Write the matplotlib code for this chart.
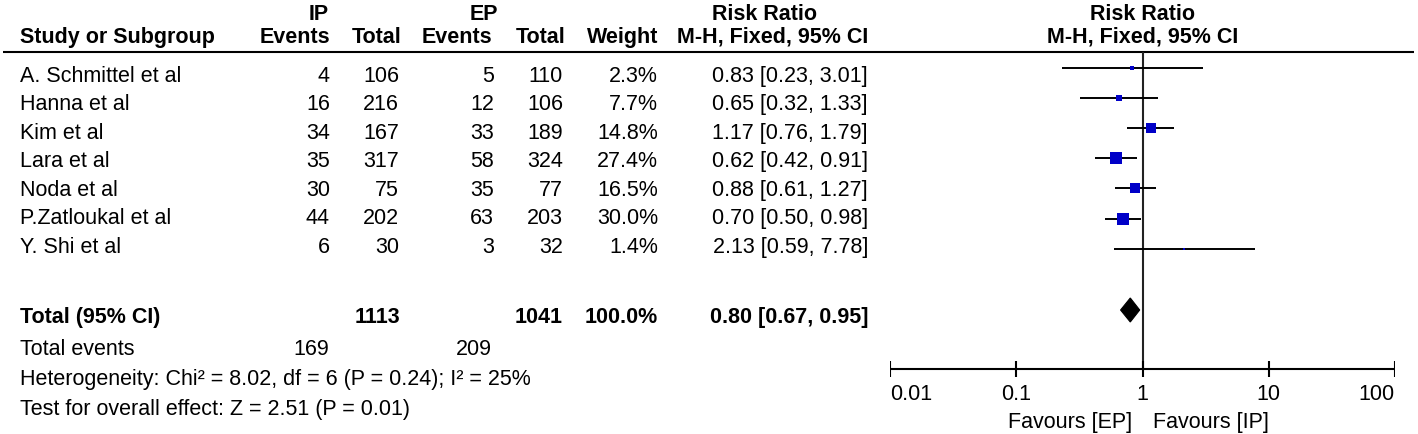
import matplotlib
matplotlib.use("Agg")
import matplotlib.pyplot as plt
from matplotlib.patches import Polygon

# ---------------- data ----------------
studies = ["A. Schmittel et al", "Hanna et al", "Kim et al", "Lara et al",
           "Noda et al", "P.Zatloukal et al", "Y. Shi et al"]
ip_events = [4, 16, 34, 35, 30, 44, 6]
ip_total = [106, 216, 167, 317, 75, 202, 30]
ep_events = [5, 12, 33, 58, 35, 63, 3]
ep_total = [110, 106, 189, 324, 77, 203, 32]
weights = [2.3, 7.7, 14.8, 27.4, 16.5, 30.0, 1.4]
rr = [0.83, 0.65, 1.17, 0.62, 0.88, 0.70, 2.13]
ci_lo = [0.23, 0.32, 0.76, 0.42, 0.61, 0.50, 0.59]
ci_hi = [3.01, 1.33, 1.79, 0.91, 1.27, 0.98, 7.78]

total_ip_n = 1113
total_ep_n = 1041
total_weight = 100.0
total_rr = 0.80
total_lo = 0.67
total_hi = 0.95
total_ip_events = 169
total_ep_events = 209
heterogeneity = "Heterogeneity: Chi\u00b2 = 8.02, df = 6 (P = 0.24); I\u00b2 = 25%"
overall = "Test for overall effect: Z = 2.51 (P = 0.01)"

tick_values = [0.01, 0.1, 1, 10, 100]
tick_labels = ["0.01", "0.1", "1", "10", "100"]
favours_left = "Favours [EP]"
favours_right = "Favours [IP]"

# ---------------- layout ----------------
W, H = 1418, 435
FS = 15.5
FONT = "Liberation Sans"
plt.rcParams["font.family"] = [FONT, "DejaVu Sans"]

fig = plt.figure(figsize=(W / 100, H / 100), dpi=100)
canvas = fig.add_axes([0, 0, 1, 1])
canvas.set_xlim(0, W)
canvas.set_ylim(H, 0)
canvas.axis("off")

CAP = 7.6  # half cap height (px) -> baseline offset from visual centre


def txt(x, yc, s, ha="left", bold=False):
    canvas.text(x, yc + CAP, s, ha=ha, va="baseline", fontsize=FS,
                fontweight="bold" if bold else "normal", color="black")


# headers
txt(319, 12, "IP", ha="center", bold=True)
txt(484, 12, "EP", ha="center", bold=True)
txt(765, 12, "Risk Ratio", ha="center", bold=True)
txt(20, 35, "Study or Subgroup", bold=True)
txt(330, 35, "Events", ha="right", bold=True)
txt(402, 35, "Total", ha="right", bold=True)
txt(492, 35, "Events", ha="right", bold=True)
txt(566, 35, "Total", ha="right", bold=True)
txt(658, 35, "Weight", ha="right", bold=True)
txt(868, 35, "M-H, Fixed, 95% CI", ha="right", bold=True)

canvas.plot([3, 1414], [52.5, 52.5], color="black", lw=1.5, solid_capstyle="butt")

# study rows
text_y0, text_dy = 74, 28.5
for i, name in enumerate(studies):
    y = text_y0 + text_dy * i
    txt(20, y, name)
    txt(330, y, str(ip_events[i]), ha="right")
    txt(399, y, str(ip_total[i]), ha="right")
    txt(494, y, str(ep_events[i]), ha="right")
    txt(563, y, str(ep_total[i]), ha="right")
    txt(658, y, f"{weights[i]:.1f}%", ha="right")
    txt(868, y, f"{rr[i]:.2f} [{ci_lo[i]:.2f}, {ci_hi[i]:.2f}]", ha="right")

# totals
yt = 315
txt(20, yt, "Total (95% CI)", bold=True)
txt(400, yt, str(total_ip_n), ha="right", bold=True)
txt(563, yt, str(total_ep_n), ha="right", bold=True)
txt(658, yt, f"{total_weight:.1f}%", ha="right", bold=True)
txt(868, yt, f"{total_rr:.2f} [{total_lo:.2f}, {total_hi:.2f}]", ha="right", bold=True)
txt(20, 347, "Total events")
txt(329, 347, str(total_ip_events), ha="right")
txt(492, 347, str(total_ep_events), ha="right")
txt(20, 377, heterogeneity)
txt(20, 407, overall)

# ---------------- forest plot ----------------
x0, x1 = 890.3, 1394.7
fax = fig.add_axes([x0 / W, 0, (x1 - x0) / W, 1])
fax.set_xscale("log")
fax.set_xlim(tick_values[0], tick_values[-1])
fax.set_ylim(H, 0)
fax.axis("off")
fax.patch.set_alpha(0)

fax.text(1, 12 + CAP, "Risk Ratio", ha="center", va="baseline", fontsize=FS, fontweight="bold")
fax.text(1, 35 + CAP, "M-H, Fixed, 95% CI", ha="center", va="baseline", fontsize=FS, fontweight="bold")

axis_y = 370
fax.plot([1, 1], [52.5, axis_y], color="#222222", lw=1.5, solid_capstyle="butt")

ci_y0, ci_dy = 69, 30.1
for i in range(len(studies)):
    y = ci_y0 + ci_dy * i
    fax.plot([ci_lo[i], ci_hi[i]], [y, y], color="black", lw=1.4, solid_capstyle="butt")
    side_px = 2.35 * weights[i] ** 0.5
    fax.plot([rr[i]], [y], marker="s", markersize=side_px * 0.72,
             markerfacecolor="#0000C8", markeredgewidth=0, linestyle="none")

# diamond
dy_c, dh = 311, 12
diamond = Polygon([[total_lo, dy_c], [total_rr, dy_c - dh],
                   [total_hi, dy_c], [total_rr, dy_c + dh]],
                  closed=True, facecolor="black", edgecolor="black", lw=0.8)
fax.add_patch(diamond)

# axis
fax.plot([tick_values[0], tick_values[-1]], [axis_y, axis_y], color="black", lw=1.5,
         solid_capstyle="butt")
for v, lab in zip(tick_values, tick_labels):
    fax.plot([v, v], [axis_y - 8, axis_y + 8], color="black", lw=1.5, solid_capstyle="butt")
    ha = "center"
    if v == tick_values[0]:
        ha = "left"
    elif v == tick_values[-1]:
        ha = "right"
    fax.text(v, 400, lab, ha=ha, va="baseline", fontsize=FS)

fax.text(0.83, 428, favours_left, ha="right", va="baseline", fontsize=FS)
fax.text(1.21, 428, favours_right, ha="left", va="baseline", fontsize=FS)

fig.savefig("out.png", dpi=100)
